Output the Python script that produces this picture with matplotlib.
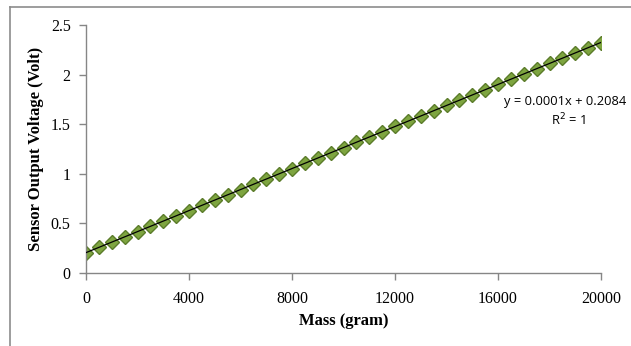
import numpy as np
import matplotlib.pyplot as plt

# mass in grams, 500 g steps
mass = [0, 500, 1000, 1500, 2000, 2500, 3000, 3500, 4000, 4500,
        5000, 5500, 6000, 6500, 7000, 7500, 8000, 8500, 9000, 9500,
        10000, 10500, 11000, 11500, 12000, 12500, 13000, 13500, 14000, 14500,
        15000, 15500, 16000, 16500, 17000, 17500, 18000, 18500, 19000, 19500,
        20000]
# sensor output (V)
voltage = [0.205, 0.258, 0.311, 0.364, 0.417, 0.470, 0.523, 0.576, 0.629, 0.682,
           0.735, 0.788, 0.841, 0.894, 0.947, 1.000, 1.053, 1.106, 1.159, 1.212,
           1.265, 1.318, 1.371, 1.424, 1.477, 1.530, 1.583, 1.636, 1.689, 1.742,
           1.795, 1.848, 1.901, 1.954, 2.007, 2.060, 2.113, 2.166, 2.219, 2.272,
           2.318]

x_ticks = [0, 4000, 8000, 12000, 16000, 20000]
y_ticks = [0, 0.5, 1, 1.5, 2, 2.5]
y_tick_labels = ['0', '0.5', '1', '1.5', '2', '2.5']

W, H = 631, 346
fig = plt.figure(figsize=(W / 100, H / 100), dpi=100)
ax = fig.add_axes([86 / W, (H - 273) / H, (601 - 86) / W, (273 - 25) / H])

# outer chart frame (top and left edges visible)
fig.add_artist(plt.Line2D([10 / W, 1.0], [(H - 7) / H, (H - 7) / H],
                          color='#8c8c8c', lw=1.2))
fig.add_artist(plt.Line2D([10 / W, 10 / W], [0, (H - 7) / H],
                          color='#8c8c8c', lw=1.2))

x = np.array(mass, dtype=float)
y = np.array(voltage)
ax.plot(x, y, linestyle='none', marker='D', markersize=7.6,
        markerfacecolor='#7ea540', markeredgecolor='#5b7c2a', markeredgewidth=1,
        zorder=2)

# linear trendline
k, b = np.polyfit(x, y, 1)
ax.plot([x.min(), x.max()], [k * x.min() + b, k * x.max() + b],
        color='black', lw=0.9, zorder=3)

ax.set_xlim(0, 20000)
ax.set_ylim(0, 2.5)
ax.set_xticks(x_ticks)
ax.set_yticks(y_ticks)
ax.set_yticklabels(y_tick_labels)

for s in ['top', 'right']:
    ax.spines[s].set_visible(False)
for s in ['left', 'bottom']:
    ax.spines[s].set_color('#868686')
    ax.spines[s].set_linewidth(1)
ax.tick_params(direction='out', length=5, width=1, color='#868686',
               labelsize=11.5, pad=6)
for lab in ax.get_xticklabels() + ax.get_yticklabels():
    lab.set_family('Liberation Serif')
ax.tick_params(axis='x', pad=8)

ax.set_xlabel('Mass (gram)', family='Liberation Serif', fontweight='bold',
              fontsize=12, labelpad=4)
ax.set_ylabel('Sensor Output Voltage (Volt)', family='Liberation Serif',
              fontweight='bold', fontsize=12, labelpad=5)

fig.text(504 / W, (H - 102) / H, 'y = 0.0001x + 0.2084', family='Open Sans',
         fontsize=9.3, ha='left', va='center')
fig.text(568 / W, (H - 120) / H, 'R$^2$ = 1', family='Open Sans',
         fontsize=9.3, ha='center', va='center')

fig.savefig('out.png', dpi=100)
